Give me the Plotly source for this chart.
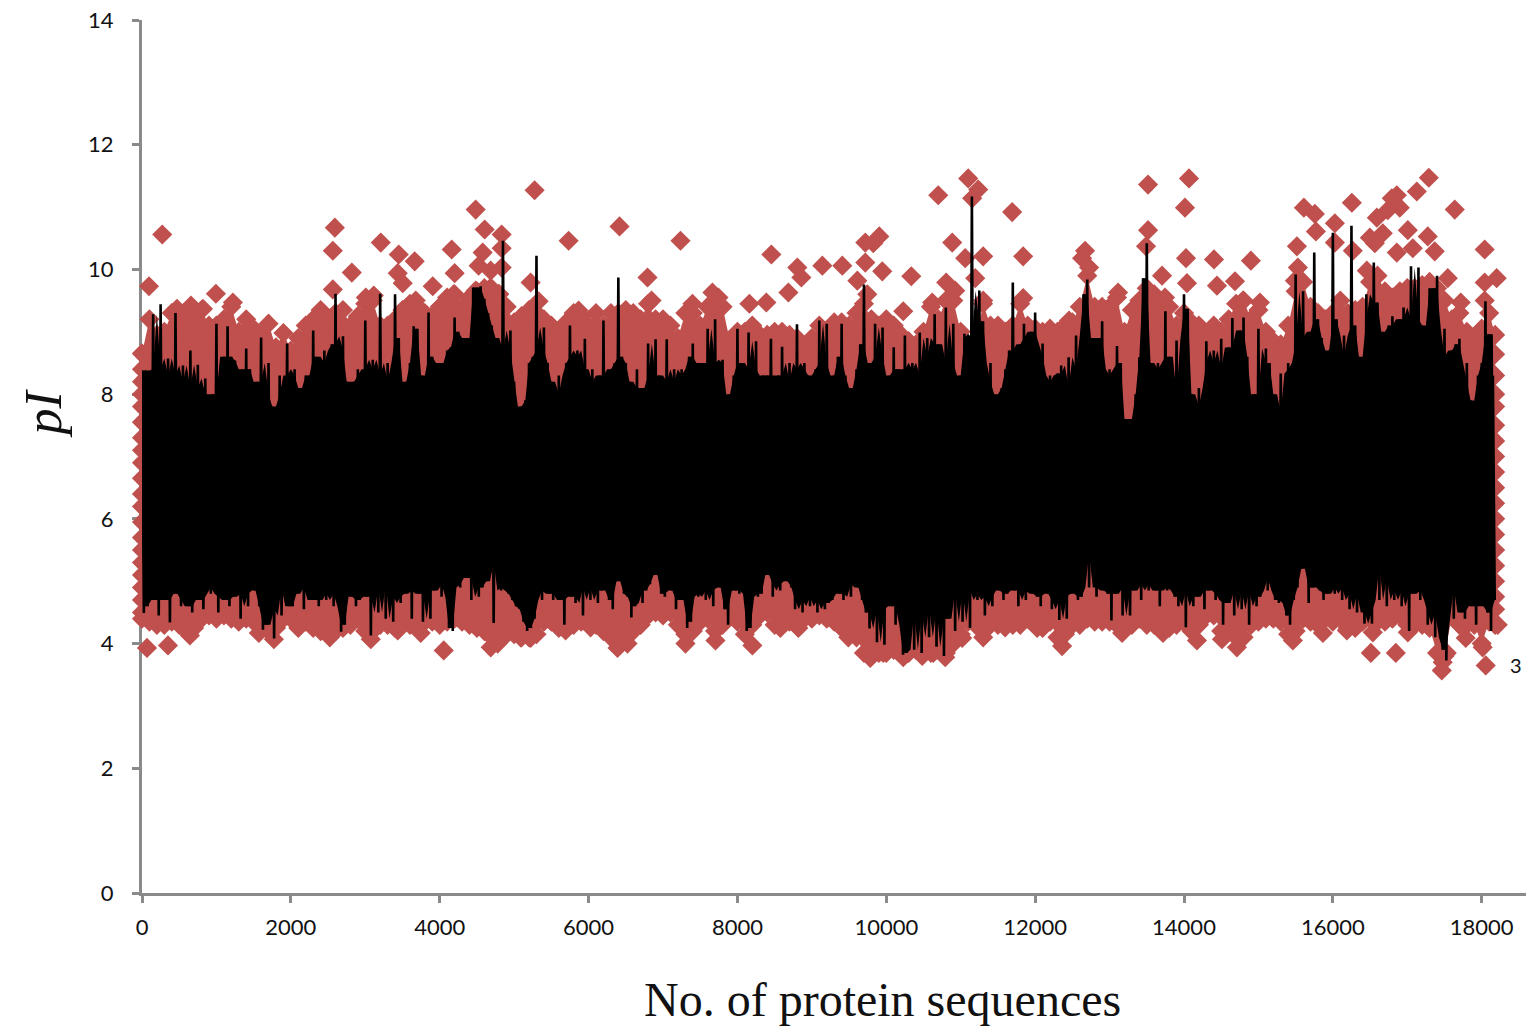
import plotly.graph_objects as go

x_ticks = list(range(0, 18001, 2000))
y_ticks = list(range(0, 15, 2))

# black line: alternating crest / trough readings, one pair per 50 sequences
black_high = [
8.38,8.38,8.35,9.28,8.4,9.44,8.2,8.57,8.3,9.3,
8.2,8.46,7.9,8.7,8.1,8.47,8.0,8.25,7.9,8.0,
9.13,8.0,8.6,9.09,8.6,8.54,8.3,8.4,8.73,8.4,
7.9,8.2,8.91,8.0,8.5,7.8,7.7,8.3,8.0,8.81,
8.3,8.4,8.0,8.1,8.3,8.3,9.02,8.6,8.4,8.7,
8.5,8.8,9.61,8.7,8.93,8.2,7.9,8.2,8.4,8.3,
9.18,8.4,8.55,8.3,9.61,8.2,8.5,8.1,9.6,8.9,
8.0,8.2,8.5,9.09,9.05,8.3,8.2,9.31,8.6,8.5,
8.5,8.2,8.7,8.75,9.23,9.0,8.9,8.4,8.9,9.71,
9.71,9.73,9.53,9.3,9.1,8.9,8.7,10.46,8.7,9.02,
8.2,7.6,7.8,7.9,8.5,8.6,10.22,8.7,9.07,8.5,
8.2,7.9,8.3,8.0,8.5,9.1,8.6,8.7,8.4,8.89,
8.2,8.4,7.9,8.3,9.18,8.1,8.4,8.5,9.87,8.6,
8.5,8.2,7.9,8.4,8.1,7.9,8.81,8.3,8.88,8.3,
8.2,8.88,8.2,8.4,8.0,8.4,8.3,8.6,8.81,8.5,
8.4,8.5,9.05,8.5,9.2,8.5,8.55,7.6,8.0,8.3,
9.05,8.5,8.2,8.99,8.4,8.85,8.2,8.3,8.3,8.89,
8.1,8.3,8.76,8.2,8.5,8.1,9.12,8.4,8.5,8.3,
8.2,8.4,9.18,8.5,9.13,8.2,8.3,8.6,9.13,8.3,
7.8,8.1,8.4,8.8,9.76,8.5,8.5,9.13,8.6,9.07,
8.1,8.3,8.75,8.4,8.3,8.94,8.4,8.5,8.3,8.99,
8.2,8.9,8.6,9.28,8.8,8.4,9.39,8.5,9.13,8.1,
8.3,8.97,8.9,11.17,8.5,9.66,9.17,8.2,8.5,8.0,
7.9,8.1,8.4,8.7,9.79,8.6,8.8,9.13,8.9,9.0,
9.31,8.6,8.81,8.2,8.3,8.2,8.33,8.46,7.6,8.59,
8.1,8.94,8.4,9.6,9.84,8.9,7.7,8.9,9.17,8.3,
8.4,8.3,8.77,8.5,7.6,7.4,7.6,8.0,8.59,9.86,
10.42,8.5,8.2,8.5,8.4,9.33,8.6,8.0,8.86,8.0,
9.6,9.37,8.0,7.5,8.1,7.8,8.85,8.5,8.7,8.4,
8.89,8.4,8.75,9.22,8.5,9.02,9.23,8.6,7.6,8.0,
9.05,7.8,8.73,8.5,8.0,7.7,8.33,7.6,8.5,8.4,
9.92,8.8,9.65,8.9,9.0,10.27,9.2,8.9,8.6,8.7,
10.59,9.2,8.6,8.94,8.6,10.7,9.1,8.6,8.3,9.6,
9.2,10.11,9.47,9.0,8.9,9.1,9.25,9.0,9.2,9.39,
9.1,10.05,9.2,10.03,9.1,8.7,9.7,9.7,9.9,8.6,
9.05,8.3,8.7,8.8,8.89,8.2,8.5,7.9,7.7,8.3,
8.5,9.49,8.96,8.3]
black_low = [
4.49,4.6,5.1,4.7,4.45,5.2,4.7,4.34,4.8,4.8,
4.6,4.7,4.6,4.5,4.9,4.7,4.55,4.9,4.8,4.9,
4.5,4.75,4.7,4.6,4.75,4.8,4.4,4.8,4.6,4.95,
4.85,4.6,4.22,4.3,4.55,4.08,4.9,4.45,5.0,4.6,
4.6,4.8,4.9,4.55,5.0,4.7,4.7,4.6,4.9,4.7,
4.8,4.6,4.85,4.19,4.3,4.9,4.75,4.6,4.7,4.9,
4.75,4.13,4.9,4.5,5.0,4.4,4.95,4.35,4.75,4.65,
4.8,4.85,4.4,4.9,4.8,4.35,4.85,4.4,4.85,5.0,
4.75,4.95,4.25,4.2,4.95,4.9,5.1,5.05,4.7,5.35,
4.75,4.9,5.0,5.3,4.33,5.5,4.85,4.9,4.8,4.7,
4.6,4.55,4.35,4.2,4.25,4.4,4.85,4.7,4.9,4.8,
4.7,4.8,4.7,4.3,4.85,4.75,4.65,4.9,4.45,4.9,
4.7,4.9,4.65,4.85,4.95,4.7,4.55,5.0,5.53,4.8,
4.75,4.42,4.6,4.9,4.65,4.85,4.95,5.25,5.1,4.8,
4.75,5.0,4.85,4.55,4.7,4.85,4.25,4.35,4.8,4.75,
4.85,4.7,4.85,4.6,4.9,4.9,4.55,4.3,4.85,4.85,
4.8,4.85,4.2,4.25,4.9,4.75,4.8,5.1,5.4,4.75,
4.95,4.85,5.05,5.0,4.9,4.55,4.7,4.5,4.75,4.6,
4.8,4.5,4.7,4.55,4.65,4.7,5.0,4.8,4.7,4.95,
4.75,5.29,4.9,4.7,4.5,4.24,5.0,4.02,4.55,3.98,
4.65,4.6,4.3,4.6,3.82,3.85,4.7,3.9,4.5,3.85,
4.6,4.1,4.7,3.95,4.55,3.8,4.4,4.85,4.2,4.85,
4.35,4.85,4.25,4.9,4.7,4.8,4.45,4.75,4.6,5.0,
4.85,4.7,4.8,4.9,4.85,4.6,4.9,4.7,4.85,4.8,
4.75,4.6,4.9,4.8,4.55,4.7,4.38,4.75,4.4,4.8,
4.85,4.7,4.75,5.45,4.9,5.5,4.75,4.9,4.85,4.8,
4.37,4.8,4.9,4.45,4.9,4.45,4.85,5.05,4.7,4.95,
4.85,5.0,4.85,4.6,5.05,4.85,4.9,4.75,4.6,4.9,
4.26,4.85,4.6,4.75,4.9,4.55,4.85,5.0,4.7,4.8,
4.3,4.65,4.85,4.45,4.85,4.55,4.85,4.3,4.95,4.6,
4.75,5.05,4.85,5.3,4.7,4.65,4.9,4.45,4.3,4.7,
4.9,5.2,5.3,4.65,4.9,5.0,4.85,4.7,4.8,4.9,
4.8,4.95,4.7,4.9,4.55,4.8,4.5,4.85,4.32,4.5,
4.32,5.3,4.7,5.25,4.6,5.05,4.7,4.85,4.6,4.85,
4.2,4.8,5.0,4.7,4.85,4.3,4.5,4.1,4.6,3.9,
3.73,4.9,4.4,5.0,4.5,4.4,5.0,4.6,4.3,4.9,
4.6,4.5,4.2,4.7]

# upper and lower rims of the red cloud, one reading per 100 sequences
red_top = [
8.65,9.2,8.95,9.0,9.3,9.3,9.2,9.3,9.35,9.1,
9.1,9.2,9.4,9.0,9.2,9.05,8.95,9.13,8.75,8.98,
8.7,8.9,9.1,9.2,9.35,9.2,9.3,9.35,9.1,9.25,
9.45,9.5,9.1,9.1,9.2,9.35,9.45,9.4,9.3,9.25,
9.4,9.55,9.6,9.4,9.55,9.65,9.7,9.6,9.6,9.4,
9.15,9.25,9.35,9.3,9.2,9.1,9.0,9.15,9.3,9.25,
9.1,9.3,9.1,9.3,9.3,9.35,9.3,9.2,9.45,9.2,
9.2,9.1,8.9,9.3,9.3,9.1,9.4,9.5,9.4,8.85,
9.0,9.0,9.1,8.95,8.95,9.0,9.0,8.95,8.9,8.75,
8.9,9.1,9.0,9.15,9.15,9.1,9.3,9.45,9.2,9.1,
9.2,9.1,8.95,8.85,8.8,9.0,9.4,9.2,9.5,9.5,
9.0,8.75,8.8,9.45,9.1,9.1,9.0,9.1,9.45,9.1,
9.05,9.0,9.05,9.0,9.1,9.15,9.4,9.9,9.4,9.4,
9.4,9.55,9.0,9.35,9.5,9.7,9.6,9.45,9.4,9.1,
9.3,9.15,9.1,8.95,9.1,9.0,9.2,9.45,9.5,9.2,
9.35,9.0,8.85,8.8,9.1,9.65,9.8,9.4,9.3,9.2,
9.3,9.5,9.3,9.35,9.4,9.8,9.9,9.65,9.55,9.65,
9.7,9.7,9.75,9.8,9.7,9.5,9.2,9.3,9.0,8.9,
9.05,9.3]
red_bottom = [
4.4,4.35,4.3,4.3,4.35,4.3,4.2,4.25,4.4,4.45,
4.4,4.45,4.4,4.35,4.4,4.35,4.25,4.2,4.25,4.4,
4.4,4.25,4.35,4.25,4.2,4.2,4.2,4.25,4.3,4.4,
4.2,4.2,4.3,4.3,4.25,4.35,4.3,4.25,4.35,4.35,
4.3,4.35,4.4,4.35,4.3,4.25,4.2,4.1,4.1,4.15,
4.15,4.1,4.1,4.15,4.35,4.35,4.25,4.3,4.3,4.35,
4.35,4.3,4.2,4.1,4.05,4.1,4.2,4.3,4.45,4.5,
4.45,4.5,4.3,4.15,4.2,4.35,4.4,4.2,4.3,4.45,
4.35,4.15,4.3,4.45,4.5,4.3,4.3,4.35,4.4,4.4,
4.4,4.45,4.4,4.35,4.25,4.2,4.1,3.85,3.9,3.85,
3.85,3.9,3.85,3.85,3.9,3.9,3.85,3.9,3.85,4.0,
4.15,4.35,4.3,4.2,4.3,4.3,4.45,4.3,4.3,4.4,
4.3,4.25,4.35,4.1,4.15,4.3,4.3,4.4,4.35,4.35,
4.35,4.3,4.25,4.3,4.4,4.3,4.3,4.2,4.25,4.3,
4.35,4.2,4.3,4.45,4.45,4.2,4.2,4.1,4.1,4.3,
4.35,4.4,4.4,4.35,4.15,4.2,4.4,4.35,4.3,4.4,
4.35,4.4,4.25,4.25,4.35,4.4,4.35,4.35,4.4,4.45,
4.3,4.3,4.3,4.25,3.85,3.8,4.45,4.3,4.3,4.3,
4.0,4.35]

# diamonds along the two ends of the series
left_edge_y = [8.65,8.4,8.2,8.0,7.8,7.55,7.3,7.1,6.9,6.65,6.4,6.2,5.95,5.7,5.5,5.3,5.1,4.9,4.7,4.5]
right_edge_y = [8.95,8.64,8.3,8.0,7.8,7.5,7.25,7.0,6.75,6.5,6.25,6.0,5.75,5.5,5.25,5.0,4.75,4.55,4.3]

# isolated diamonds read individually
outlier_x = [272,94,993,1221,658,819,470,2591,2564,2819,2564,3208,3450,3664,3436,3503,4161,4201,3906,
4483,4604,4832,4832,4577,4523,4832,4685,5275,5732,5221,5329,4792,4685,4483,3007,3114,3678,4188,5866,
6416,7235,6792,8456,8805,8859,9141,9409,8685,8389,8161,9718,9906,9825,9718,9946,9611,10336,9745,10228,
10698,11101,11235,11154,11691,10886,11060,11302,11839,11195,10805,10926,10617,11302,11839,7745,7664,6846,7396,
13517,14067,14013,13517,13490,14027,14403,14899,13705,14040,14443,14685,13745,15020,14792,13114,12671,12631,12725,
15611,15758,15772,16027,15517,16027,16255,16268,17289,17128,16859,16792,16899,16738,16591,17638,18040,18201,18040,
16456,16497,16671,16564,17007,17275,17369,17074,16859,17544,17718,18040,15530,15490,12456,
67,349,644,1772,2523,3074,3436,4054,4685,4779,5221,5691,5087,3745,1570,
6389,6523,6027,7302,7705,8201,9490,9785,10228,10483,10792,10631,9960,11020,11302,11597,12027,8577,8819,
12362,13168,13718,14174,14510,14711,15463,15866,16188,16510,16846,17463,17476,17530,17785,18013,18054,18215,16537,17007]
outlier_y = [10.56,9.73,9.61,9.47,9.42,9.37,9.37,10.67,10.30,9.95,9.68,10.43,10.24,10.13,9.94,9.78,10.32,9.94,9.73,
10.96,10.64,10.56,10.34,10.27,10.06,10.03,9.98,11.27,10.46,9.79,9.49,9.61,9.71,9.66,9.55,9.58,9.5,9.6,9.34,
10.69,10.46,9.87,10.24,10.03,9.87,10.06,10.06,9.63,9.47,9.45,10.43,10.53,10.42,10.11,9.97,9.82,9.89,9.6,9.33,
11.19,11.46,11.28,11.14,10.92,10.43,10.18,10.21,10.21,9.86,9.79,9.66,9.47,9.5,9.54,9.55,9.63,9.5,9.45,
11.36,11.46,10.99,10.63,10.37,10.18,10.16,10.14,9.9,9.78,9.74,9.81,9.55,9.47,9.5,9.63,10.3,10.18,10.03,
10.99,10.89,10.61,10.74,10.37,10.43,11.07,10.3,11.47,11.25,11.19,11.14,10.99,10.95,10.83,10.96,10.32,9.86,9.79,
9.98,10.51,10.58,10.42,10.63,10.53,10.29,10.34,10.27,9.86,9.47,9.5,10.03,9.82,9.18,
3.93,3.97,4.13,4.07,4.1,4.07,4.21,3.89,3.94,4.0,4.09,4.21,4.1,4.17,4.17,
3.93,4.0,4.26,4.0,4.05,3.97,4.1,3.77,3.78,3.8,3.78,3.85,3.85,4.09,4.1,4.26,4.25,4.25,4.25,
3.96,4.17,4.17,4.05,4.07,3.94,4.05,4.17,4.21,3.85,3.85,3.57,3.7,3.85,4.09,3.94,3.65,4.3,4.18,4.18]

RED = "#C0504D"
GREY = "#8A8A8A"

rim_x = [i * 100 for i in range(len(red_top))]
high_x = [i * 50 for i in range(len(black_high))]
low_x = [i * 50 + 25 for i in range(len(black_low))]
line_x, line_y = [], []
for xh, yh, xl, yl in zip(high_x, black_high, low_x, black_low):
    line_x += [xh, xl]
    line_y += [yh, yl]


def middle(values):
    return sorted(values)[len(values) // 2]


# the zigzag overlaps into solid black up to the typical swing of its neighbours
core_top = [middle(black_high[max(i - 1, 0):i + 2]) for i in range(len(black_high))]
core_bottom = [middle(black_low[max(i - 1, 0):i + 2]) for i in range(len(black_low))]

END_X = 18180
fig = go.Figure()
fig.add_trace(go.Scatter(
    x=rim_x + [END_X] + [END_X] + rim_x[::-1],
    y=red_top + [right_edge_y[0]] + [right_edge_y[-1]] + red_bottom[::-1],
    mode="lines", fill="toself", fillcolor=RED, line=dict(color=RED, width=0),
    hoverinfo="skip", showlegend=False))
marker = dict(symbol="diamond", color=RED, size=15.5, line=dict(width=0))
fig.add_trace(go.Scatter(
    x=rim_x + rim_x + [0] * len(left_edge_y) + [END_X] * len(right_edge_y) + outlier_x,
    y=red_top + red_bottom + left_edge_y + right_edge_y + outlier_y,
    mode="markers", marker=marker, cliponaxis=False, showlegend=False))
fig.add_trace(go.Scatter(
    x=high_x + low_x[::-1], y=core_top + core_bottom[::-1],
    mode="lines", fill="toself", fillcolor="black", line=dict(color="black", width=0),
    hoverinfo="skip", showlegend=False))
fig.add_trace(go.Scatter(
    x=line_x, y=line_y, mode="lines",
    line=dict(color="black", width=2.6, simplify=False),
    cliponaxis=False, showlegend=False))

axis = dict(showgrid=False, zeroline=False, showline=True, linecolor=GREY, linewidth=3,
            ticks="outside", tickcolor=GREY, tickwidth=3, ticklen=7,
            tickfont=dict(family="Lato, Open Sans, sans-serif", size=22, color="#111111"),
            layer="below traces")
fig.update_layout(
    width=1526, height=1026, autosize=False,
    margin=dict(l=142, r=0, t=20, b=133),
    paper_bgcolor="white", plot_bgcolor="white",
    xaxis=dict(axis, range=[0, 18595], tickvals=x_ticks, ticktext=[str(v) for v in x_ticks],
               ticklabelstandoff=6),
    yaxis=dict(axis, range=[0, 14], tickvals=y_ticks, ticktext=[str(v) for v in y_ticks],
               ticklabelstandoff=14),
    annotations=[
        dict(text="No. of protein sequences", xref="paper", yref="paper",
             x=0.535, y=-0.1225, xanchor="center", yanchor="middle", showarrow=False,
             font=dict(family="Liberation Serif", size=48, color="#111111")),
        dict(text="<i>pI</i>", xref="paper", yref="paper", x=-0.071, y=0.549, textangle=-90,
             xanchor="center", yanchor="middle", showarrow=False,
             font=dict(family="Liberation Serif", size=52, color="#111111")),
        dict(text="3", x=18060, y=3.65, xref="x", yref="y", xanchor="left", xshift=22,
             showarrow=False, font=dict(family="Lato, Open Sans, sans-serif", size=20, color="#111111")),
    ])
fig.write_html("out.html", config={"displayModeBar": False},
               post_script="document.body.style.margin='0';")
